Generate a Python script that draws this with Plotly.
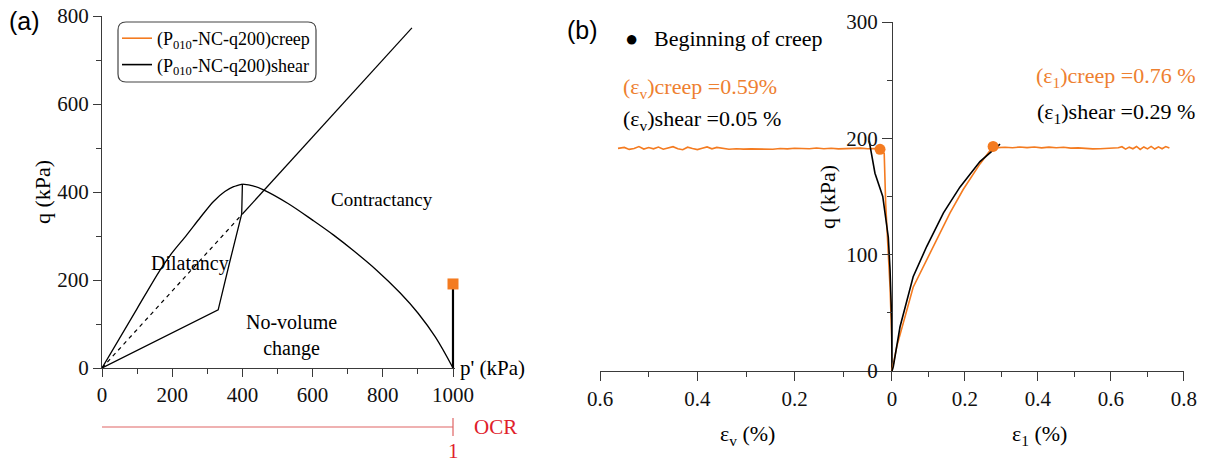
import plotly.graph_objects as go

W, H = 1207, 463
SERIF = "Liberation Serif"
ORANGE = "#F47B20"
ORANGE_TXT = "#EE8030"
AX = "#3a3a3a"
RED = "#E0202A"

# ---------------- Panel (a) data : p'-q plane ----------------
csl_dash_p = [0, 400]
csl_dash_q = [0, 350]
csl_solid_p = [400, 883]
csl_solid_q = [350, 773]

dil_outer_p = [0, 100, 165, 200, 241, 280, 317, 350, 375, 400]
dil_outer_q = [0, 135, 222, 262, 302, 342, 378, 401, 412, 418]

contr_p = [400, 430, 460, 530, 602, 660, 716, 780, 849, 900, 950, 1000]
contr_q = [418, 414, 405, 374, 335, 302, 267, 224, 171, 125, 70, 0]

dil_inner_p = [400, 398, 363, 331, 0]
dil_inner_q = [418, 350, 238, 132, 0]

shear_path_p = [1000, 1000]
shear_path_q = [0, 191]
creep_point_p = [1000]
creep_point_q = [191]

# ---------------- Panel (b) data ----------------
shear_ev = [0.0, 0.0007, 0.004, 0.0076, 0.019, 0.035, 0.047]
shear_ev_q = [0, 44, 87, 115, 150, 170, 198]

creep_ev = [0.0, 0.0006, 0.004, 0.009, 0.013, 0.016, 0.0246,
            0.035, 0.05, 0.065, 0.08, 0.095, 0.11, 0.125, 0.14, 0.155, 0.17, 0.185,
            0.20, 0.215, 0.23, 0.245, 0.26, 0.275, 0.29, 0.305, 0.32, 0.335, 0.35,
            0.36, 0.37, 0.38, 0.39, 0.40, 0.41, 0.42, 0.43, 0.44, 0.45, 0.46,
            0.47, 0.48, 0.49, 0.50, 0.51, 0.52, 0.53, 0.54, 0.55, 0.563]
creep_ev_q = [0, 29, 72, 115, 144, 187, 190.6,
              191.3, 191.0, 191.6, 191.2, 191.4, 190.9, 191.5, 191.1, 191.7, 191.0, 191.3,
              191.5, 190.9, 191.2, 190.6, 190.8, 190.4, 190.9, 190.7, 191.1, 190.6, 191.4,
              192.2, 191.0, 192.6, 191.5, 190.3, 191.2, 192.4, 190.2, 191.0, 192.8, 191.4,
              190.6, 192.5, 191.0, 192.1, 190.8, 192.9, 191.3, 190.5, 192.2, 191.4]

shear_e1 = [0.0, 0.0037, 0.022, 0.058, 0.095, 0.141, 0.186, 0.241, 0.296]
shear_e1_q = [0, 4, 38, 81, 107, 136, 158, 180, 195]

creep_e1 = [0.0, 0.013, 0.058, 0.077, 0.113, 0.159, 0.195, 0.241, 0.277,
            0.29, 0.31, 0.33, 0.35, 0.37, 0.39, 0.41, 0.43, 0.45, 0.47, 0.49,
            0.51, 0.53, 0.55, 0.57, 0.59, 0.61, 0.62, 0.63, 0.64, 0.65, 0.66,
            0.67, 0.68, 0.69, 0.70, 0.71, 0.72, 0.73, 0.74, 0.75, 0.76]
creep_e1_q = [0, 21, 72, 84, 107, 136, 156, 178, 193,
              192.0, 192.3, 191.9, 192.5, 192.0, 192.6, 191.8, 192.4, 191.9, 192.3, 191.6,
              191.8, 191.2, 190.9, 191.1, 191.5, 192.3, 191.9, 192.8, 190.7, 192.4, 191.0,
              193.0, 190.5, 192.6, 190.9, 193.1, 190.8, 192.7, 191.0, 192.9, 191.6]

creep_start_ev = [0.0246]
creep_start_ev_q = [190.6]
creep_start_e1 = [0.277]
creep_start_e1_q = [193]

pa_xticks = [0, 200, 400, 600, 800, 1000]
pa_yticks = [0, 200, 400, 600, 800]
pb_ev_ticks = [0.2, 0.4, 0.6]
pb_e1_ticks = [0, 0.2, 0.4, 0.6, 0.8]
pb_yticks = [0, 100, 200, 300]


def px_x(px):
    return px / W


def px_y(py):
    return 1 - py / H


fig = go.Figure()

# Panel (a)
fig.add_trace(go.Scatter(x=csl_dash_p, y=csl_dash_q, mode="lines",
                         line=dict(color="black", width=1.2, dash="4px,4px"),
                         xaxis="x", yaxis="y", showlegend=False))
fig.add_trace(go.Scatter(x=csl_solid_p, y=csl_solid_q, mode="lines",
                         line=dict(color="black", width=1.2),
                         xaxis="x", yaxis="y", showlegend=False))
fig.add_trace(go.Scatter(x=dil_outer_p, y=dil_outer_q, mode="lines",
                         line=dict(color="black", width=1.3, shape="spline", smoothing=0.8),
                         xaxis="x", yaxis="y", showlegend=False))
fig.add_trace(go.Scatter(x=contr_p, y=contr_q, mode="lines",
                         line=dict(color="black", width=1.3, shape="spline", smoothing=1.0),
                         xaxis="x", yaxis="y", showlegend=False))
fig.add_trace(go.Scatter(x=dil_inner_p, y=dil_inner_q, mode="lines",
                         line=dict(color="black", width=1.3),
                         xaxis="x", yaxis="y", showlegend=False))
fig.add_trace(go.Scatter(x=shear_path_p, y=shear_path_q, mode="lines",
                         line=dict(color="black", width=2.2),
                         xaxis="x", yaxis="y", showlegend=False))
fig.add_trace(go.Scatter(x=creep_point_p, y=creep_point_q, mode="markers",
                         marker=dict(color=ORANGE, symbol="square", size=11),
                         cliponaxis=False, xaxis="x", yaxis="y", showlegend=False))

# Panel (b)
fig.add_trace(go.Scatter(x=creep_ev, y=creep_ev_q, mode="lines",
                         line=dict(color=ORANGE, width=1.6),
                         xaxis="x2", yaxis="y2", showlegend=True,
                         name="(P<sub>010</sub>-NC-q200)creep"))
fig.add_trace(go.Scatter(x=creep_e1, y=creep_e1_q, mode="lines",
                         line=dict(color=ORANGE, width=1.6),
                         xaxis="x3", yaxis="y2", showlegend=False))
fig.add_trace(go.Scatter(x=shear_ev, y=shear_ev_q, mode="lines",
                         line=dict(color="black", width=1.6),
                         xaxis="x2", yaxis="y2", showlegend=True,
                         name="(P<sub>010</sub>-NC-q200)shear"))
fig.add_trace(go.Scatter(x=shear_e1, y=shear_e1_q, mode="lines",
                         line=dict(color="black", width=1.6),
                         xaxis="x3", yaxis="y2", showlegend=False))
fig.add_trace(go.Scatter(x=creep_start_ev, y=creep_start_ev_q, mode="markers",
                         marker=dict(color=ORANGE, size=11), cliponaxis=False,
                         xaxis="x2", yaxis="y2", showlegend=False))
fig.add_trace(go.Scatter(x=creep_start_e1, y=creep_start_e1_q, mode="markers",
                         marker=dict(color=ORANGE, size=11), cliponaxis=False,
                         xaxis="x3", yaxis="y2", showlegend=False))

tickfont = dict(family=SERIF, size=21, color="#111")

xa_dom = [px_x(102), px_x(102 + 351 * 1.005)]
ya_dom = [px_y(368), px_y(16)]
x2_dom = [px_x(600), px_x(892 + 0.004 * 487)]
x3_dom = [px_x(892 - 0.005 * 365), px_x(1184)]
y2_dom = [px_y(371), px_y(22)]

common = dict(showgrid=False, zeroline=False, showline=True, linecolor=AX, linewidth=1.3,
              ticks="outside", tickcolor=AX, tickwidth=1.3, tickfont=tickfont,
              automargin=False)

fig.update_layout(
    template="none",
    width=W, height=H,
    margin=dict(l=0, r=0, t=0, b=0, autoexpand=False),
    paper_bgcolor="white", plot_bgcolor="rgba(0,0,0,0)",
    xaxis=dict(domain=xa_dom, range=[0, 1005], anchor="y", tickvals=pa_xticks, ticklen=8,
               minor=dict(tickvals=[100, 300, 500, 700, 900], ticklen=5, ticks="outside",
                          tickcolor=AX, tickwidth=1.3), **common),
    yaxis=dict(domain=ya_dom, range=[0, 800], anchor="x", tickvals=pa_yticks, ticklen=8,
               minor=dict(tickvals=[100, 300, 500, 700], ticklen=5, ticks="outside",
                          tickcolor=AX, tickwidth=1.3), **common),
    xaxis2=dict(domain=x2_dom, range=[0.6, -0.004], anchor="y2", tickvals=pb_ev_ticks, ticklen=9,
                minor=dict(tickvals=[0.1, 0.3, 0.5], ticklen=5, ticks="outside",
                           tickcolor=AX, tickwidth=1.3), **common),
    xaxis3=dict(domain=x3_dom, range=[-0.005, 0.8], anchor="y2", tickvals=pb_e1_ticks, ticklen=9,
                minor=dict(tickvals=[0.1, 0.3, 0.5, 0.7], ticklen=5, ticks="outside",
                           tickcolor=AX, tickwidth=1.3), **common),
    yaxis2=dict(domain=y2_dom, range=[0, 300], anchor="free", position=px_x(892),
                tickvals=pb_yticks, ticklen=10,
                minor=dict(tickvals=[50, 150, 250], ticklen=5, ticks="outside",
                           tickcolor=AX, tickwidth=1.3), **common),
    legend=dict(x=px_x(117), y=px_y(20), xanchor="left", yanchor="top",
                bgcolor="rgba(0,0,0,0)", borderwidth=0,
                font=dict(family=SERIF, size=18, color="black"),
                tracegroupgap=0, itemwidth=30),
)

# rounded legend box
x0, x1, y0, y1 = px_x(118), px_x(316), px_y(82), px_y(22)
rx, ry = 8 / W, 8 / H
path = (f"M {x0+rx},{y1} L {x1-rx},{y1} Q {x1},{y1} {x1},{y1-ry} "
        f"L {x1},{y0+ry} Q {x1},{y0} {x1-rx},{y0} L {x0+rx},{y0} "
        f"Q {x0},{y0} {x0},{y0+ry} L {x0},{y1-ry} Q {x0},{y1} {x0+rx},{y1} Z")
fig.add_shape(type="path", path=path, xref="paper", yref="paper",
              line=dict(color="#444", width=1.2), fillcolor="rgba(0,0,0,0)")

# OCR scale
ocr_y = px_y(427)
fig.add_shape(type="line", xref="x", yref="paper", x0=0, x1=1000, y0=ocr_y, y1=ocr_y,
              line=dict(color="#E06464", width=1.2))
fig.add_shape(type="line", xref="x", yref="paper", x0=1000, x1=1000, y0=px_y(418), y1=px_y(436),
              line=dict(color="#E06464", width=1.2))

ann = []


def A(text, x, y, xref="paper", yref="paper", size=19, color="black", family=SERIF,
      xanchor="center", yanchor="middle", angle=0, **kw):
    ann.append(dict(text=text, x=x, y=y, xref=xref, yref=yref, showarrow=False,
                    font=dict(family=family, size=size, color=color), xanchor=xanchor,
                    yanchor=yanchor, textangle=angle, **kw))


A("(a)", px_x(7), px_y(21), family="Liberation Sans", size=25, xanchor="left")
A("(b)", px_x(565), px_y(30), family="Liberation Sans", size=25, xanchor="left")
A("q (kPa)", px_x(42), px_y(192), angle=-90, size=22)
A("p' (kPa)", 1000, 0, xref="x", yref="y", xanchor="left", xshift=5, size=21)
A("OCR", px_x(472), px_y(427), color=RED, size=21, xanchor="left")
A("1", 1000, px_y(451), xref="x", color=RED, size=21)
A("Dilatancy", 251, 238, xref="x", yref="y", size=20)
A("Contractancy", 799, 382, xref="x", yref="y", size=19)
A("No-volume<br>change", 540, 73, xref="x", yref="y", size=20)

A("●", px_x(632), px_y(38), size=22)
A("Beginning of creep", px_x(652), px_y(38), size=22, xanchor="left")
A("(ε<sub>v</sub>)creep =0.59%", px_x(621), px_y(88), size=22, color=ORANGE_TXT, xanchor="left")
A("(ε<sub>v</sub>)shear =0.05 %", px_x(621), px_y(120), size=22, xanchor="left")
A("(ε<sub>1</sub>)creep =0.76 %", px_x(1197), px_y(77), size=22, color=ORANGE_TXT, xanchor="right")
A("(ε<sub>1</sub>)shear =0.29 %", px_x(1197), px_y(113), size=22, xanchor="right")
A("q (kPa)", px_x(828), px_y(197), angle=-90, size=22)
A("ε<sub>v</sub> (%)", px_x(747), px_y(435), size=22)
A("ε<sub>1</sub> (%)", px_x(1039), px_y(435), size=22)

fig.update_layout(annotations=ann)
fig.write_html("out.html")
